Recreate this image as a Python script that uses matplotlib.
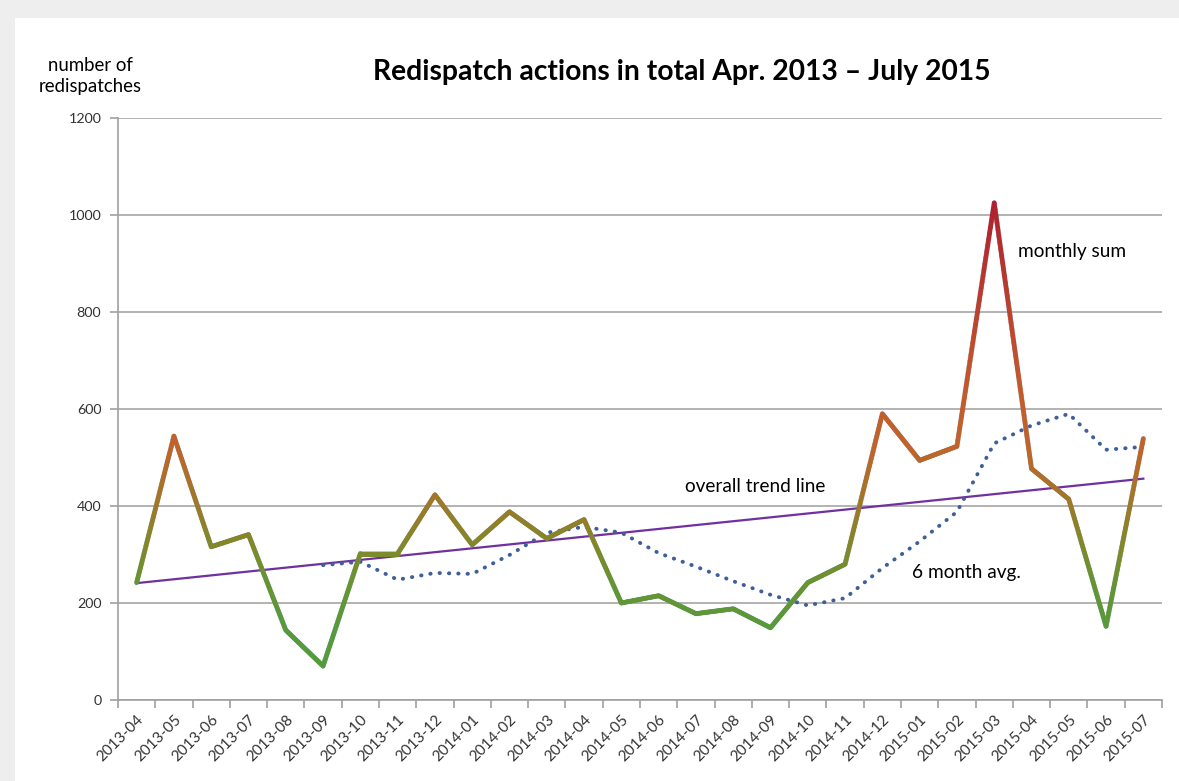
import matplotlib.pyplot as plt
import numpy as np
from matplotlib.collections import LineCollection
from matplotlib.colors import LinearSegmentedColormap, Normalize
from matplotlib.patches import Rectangle

# Dados
meses = ['2013-04', '2013-05', '2013-06', '2013-07', '2013-08', '2013-09', '2013-10',
         '2013-11', '2013-12', '2014-01', '2014-02', '2014-03', '2014-04', '2014-05',
         '2014-06', '2014-07', '2014-08', '2014-09', '2014-10', '2014-11', '2014-12',
         '2015-01', '2015-02', '2015-03', '2015-04', '2015-05', '2015-06', '2015-07']
soma_mensal = [242, 544, 316, 341, 144, 70, 302, 302, 423, 320, 388, 333, 372, 200,
               215, 178, 188, 149, 242, 280, 590, 494, 523, 1025, 477, 414, 152, 539]
# media de 6 meses (comeca em 2013-09)
media_6m = [np.nan] * 5 + [278, 285, 248, 262, 260, 299, 345, 357, 345,
                           303, 275, 245, 217, 195, 210, 272, 327, 388, 529,
                           566, 590, 516, 522]

plt.rcParams['font.family'] = ['Lato', 'DejaVu Sans']

fig = plt.figure(figsize=(11.79, 7.81), dpi=100)
fig.patch.set_facecolor('#eeeeee')
fig.patches.append(Rectangle((15 / 1179, 0), 1, 1 - 18 / 781, transform=fig.transFigure,
                             facecolor='white', edgecolor='none', zorder=-10))

ax = fig.add_axes([118 / 1179, 81 / 781, 1044 / 1179, 582 / 781])
ax.set_facecolor('none')

x = np.arange(len(meses))
y = np.array(soma_mensal, dtype=float)

# linha de tendencia (regressao linear)
coef = np.polyfit(x, y, 1)
ax.plot(x, np.polyval(coef, x), color='#7030a0', lw=1.6, zorder=3)

# media de 6 meses pontilhada
ax.plot(x, media_6m, color='#3f5f9a', lw=2.8, linestyle=(0, (0.1, 2.3)),
        dash_capstyle='round', zorder=4)

# soma mensal com gradiente de cor pelo valor
ax.plot(x, y, color='#5b86c5', lw=3.7, alpha=0.45, zorder=5,
        solid_joinstyle='round', solid_capstyle='round')
xs, ys = [], []
for i in range(len(x) - 1):
    t = np.linspace(0, 1, 40, endpoint=False)
    xs.extend(x[i] + t * (x[i + 1] - x[i]))
    ys.extend(y[i] + t * (y[i + 1] - y[i]))
xs.append(x[-1])
ys.append(y[-1])
xs, ys = np.array(xs), np.array(ys)
pts = np.column_stack([xs, ys]).reshape(-1, 1, 2)
segs = np.concatenate([pts[:-1], pts[1:]], axis=1)
cmap = LinearSegmentedColormap.from_list('grad', [
    (0.0, '#4f9e3f'), (150 / 1100, '#58993a'), (250 / 1100, '#6a9330'),
    (330 / 1100, '#868628'), (420 / 1100, '#a37628'), (520 / 1100, '#c0642a'),
    (650 / 1100, '#c4592a'), (1025 / 1100, '#b0202e'), (1.0, '#aa1e2e')])
lc = LineCollection(segs, cmap=cmap, norm=Normalize(0, 1100), linewidths=3.3,
                    capstyle='round', joinstyle='round', zorder=6)
lc.set_array((ys[:-1] + ys[1:]) / 2)
ax.add_collection(lc)

# eixos
ax.set_xlim(-0.5, len(meses) - 0.5)
ax.set_ylim(0, 1200)
ax.set_yticks(np.arange(0, 1201, 200))
ax.grid(axis='y', color='#a6a6a6', lw=1.2)
ax.set_axisbelow(True)
for lado in ['top', 'right']:
    ax.spines[lado].set_visible(False)
for lado in ['left', 'bottom']:
    ax.spines[lado].set_color('#a0a0a0')
    ax.spines[lado].set_linewidth(1.2)

ax.set_xticks(x)
ax.set_xticklabels(meses, rotation=45, ha='right', rotation_mode='anchor',
                   fontsize=11, color='#333333')
ax.set_xticks(np.arange(-0.5, len(meses), 1), minor=True)
ax.tick_params(axis='x', which='major', length=0, pad=9)
ax.tick_params(axis='x', which='minor', length=6, color='#a0a0a0', width=1.2)
ax.tick_params(axis='y', length=6, color='#a0a0a0', width=1.2, labelsize=10.3,
               labelcolor='#333333', pad=6)

# textos
fig.text(682 / 1179, 1 - 72 / 781, 'Redispatch actions in total Apr. 2013 \u2013 July 2015',
         ha='center', va='center', fontsize=20.3, fontweight='bold')
fig.text(90 / 1179, 1 - 76 / 781, 'number of\nredispatches', ha='center', va='center',
         fontsize=13.4, linespacing=1.3)
ax.text(23.64, 925, 'monthly sum', fontsize=13.7, ha='left', va='center')
ax.text(14.7, 440, 'overall trend line', fontsize=13.7, ha='left', va='center')
ax.text(20.79, 262, '6 month avg.', fontsize=13.7, ha='left', va='center')

fig.savefig('out.png', dpi=100, facecolor=fig.get_facecolor())
